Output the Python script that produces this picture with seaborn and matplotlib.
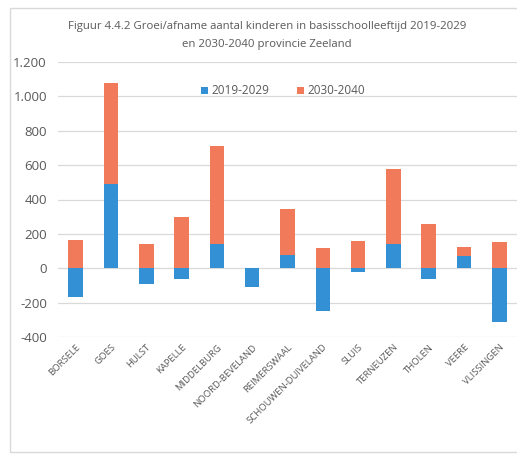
import matplotlib
matplotlib.use("Agg")
import matplotlib.pyplot as plt
import seaborn as sns
import pandas as pd
import numpy as np
from matplotlib.patches import Patch, Rectangle

gemeenten = ["BORSELE", "GOES", "HULST", "KAPELLE", "MIDDELBURG", "NOORD-BEVELAND",
             "REIMERSWAAL", "SCHOUWEN-DUIVELAND", "SLUIS", "TERNEUZEN", "THOLEN",
             "VEERE", "VLISSINGEN"]
groei_2019_2029 = [-165, 490, -90, -60, 140, -110, 80, -250, -20, 140, -60, 70, -310]
groei_2030_2040 = [165, 590, 140, 300, 570, 0, 265, 115, 160, 435, 260, 55, 150]
yticks = [-400, -200, 0, 200, 400, 600, 800, 1000, 1200]
ytick_labels = ["-400", "-200", "0", "200", "400", "600", "800", "1.000", "1.200"]

blue = "#3490D4"
orange = "#F07A5A"
grey_text = "#595959"

sns.set_theme(style="white")
plt.rcParams['font.family'] = ['Open Sans', 'DejaVu Sans']

df = pd.DataFrame({
    "gemeente": gemeenten,
    "p1": groei_2019_2029,
    "p2": groei_2030_2040,
})
df["top"] = df["p1"].clip(lower=0) + df["p2"]

fig = plt.figure(figsize=(5.17, 4.54), dpi=100)
fig.patches.append(Rectangle((10 / 517, 2 / 454), 1.0, 444 / 454, transform=fig.transFigure,
                             fill=False, edgecolor="#D9D9D9", linewidth=1.0))
ax = fig.add_axes([58 / 517, 1 - 337 / 454, (517 - 58) / 517, (337 - 62) / 454])

sns.barplot(data=df, x="gemeente", y="top", color=orange, saturation=1, width=0.41,
            ax=ax, zorder=3, linewidth=0)
sns.barplot(data=df, x="gemeente", y="p1", color=blue, saturation=1, width=0.41,
            ax=ax, zorder=4, linewidth=0)

ax.set_ylim(-400, 1200)
ax.set_xlim(-0.5, 12.5)
ax.set_yticks(yticks)
ax.set_yticklabels(ytick_labels, fontsize=9.5, color=grey_text)
ax.yaxis.grid(True, color="#D9D9D9", linewidth=0.9, zorder=0)
ax.set_axisbelow(True)
for s in ax.spines.values():
    s.set_visible(False)
ax.tick_params(axis="both", length=0)
ax.tick_params(axis="y", pad=8)
ax.set_xlabel("")
ax.set_ylabel("")
ax.set_xticks(range(len(gemeenten)))
ax.set_xticklabels(gemeenten, rotation=45, ha="right", rotation_mode="anchor",
                   fontsize=6.8, color=grey_text)
ax.tick_params(axis="x", pad=4)

handles = [Patch(facecolor=blue, edgecolor="none"), Patch(facecolor=orange, edgecolor="none")]
ax.legend(handles, ["2019-2029", "2030-2040"], ncol=2, frameon=False,
          loc="center", bbox_to_anchor=((283 - 58) / 459, (1 - (91 - 62) / 275)),
          fontsize=8.5, labelcolor=grey_text, handlelength=0.6, handleheight=0.6,
          columnspacing=2.3, handletextpad=0.3)

fig.text(267 / 517, 1 - 27 / 454, "Figuur 4.4.2 Groei/afname aantal kinderen in basisschoolleeftijd 2019-2029",
         ha="center", va="center", fontsize=8.2, color=grey_text)
fig.text(267 / 517, 1 - 44 / 454, "en 2030-2040 provincie Zeeland",
         ha="center", va="center", fontsize=8.2, color=grey_text)

fig.savefig("out.png", dpi=100)
